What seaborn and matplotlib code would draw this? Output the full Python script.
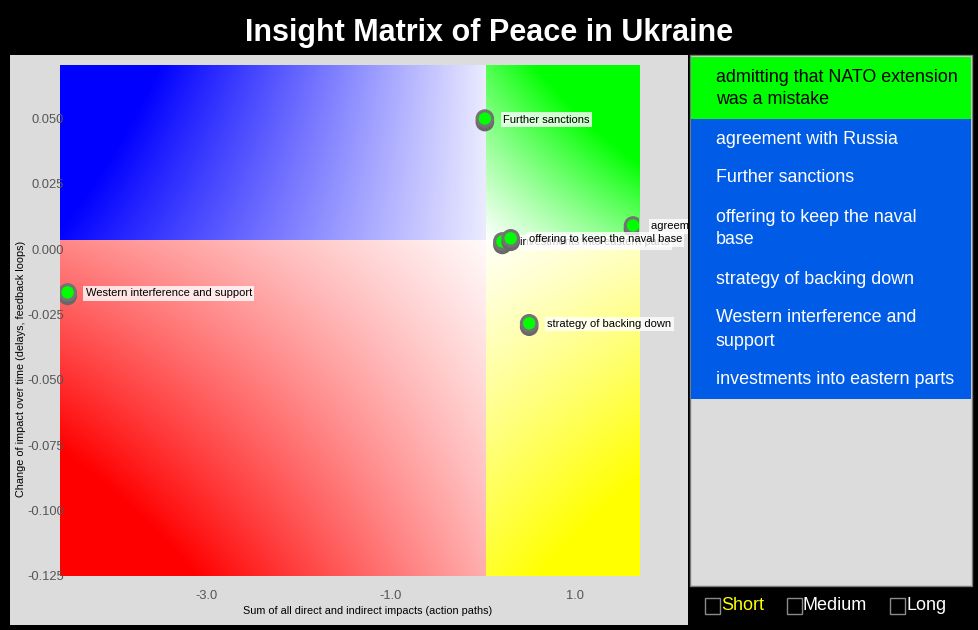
import textwrap
import numpy as np
import pandas as pd
import matplotlib
matplotlib.use("Agg")
import matplotlib.pyplot as plt
import seaborn as sns
from matplotlib.patches import Rectangle
from matplotlib.transforms import Bbox, TransformedBbox, ScaledTranslation

# ---------------- data ----------------
title = "Insight Matrix of Peace in Ukraine"
x_label = "Sum of all direct and indirect impacts (action paths)"
y_label = "Change of impact over time (delays, feedback loops)"

factors = [
    "admitting that NATO extension was a mistake",
    "agreement with Russia",
    "Further sanctions",
    "offering to keep the naval base",
    "strategy of backing down",
    "Western interference and support",
    "investments into eastern parts",
]
impact_sum = [np.nan, 1.625, 0.02, 0.30, 0.50, -4.50, 0.21]
impact_change = [np.nan, 0.0091, 0.050, 0.0042, -0.0283, -0.0165, 0.0030]
selected = "admitting that NATO extension was a mistake"

x_ticks = [-3.0, -1.0, 1.0]
y_ticks = [0.050, 0.025, 0.000, -0.025, -0.050, -0.075, -0.100, -0.125]
x_range = (-4.583, 1.69)
y_range = (-0.125, 0.0705)
x_split = 0.03
y_split = 0.0034
horizons = ["Short", "Medium", "Long"]
active_horizon = "Short"

# ---------------- figure ----------------
W, H = 979, 630
def fx(px):
    return px / W
def fy(py):
    return 1 - py / H

sns.set_theme(style="white")
plt.rcParams["font.family"] = ["Liberation Sans", "DejaVu Sans"]

fig = plt.figure(figsize=(W / 100, H / 100), dpi=100, facecolor="black")

# grey plot panel
fig.add_artist(Rectangle((fx(10), fy(625)), fx(688) - fx(10), fy(55) - fy(625),
                         transform=fig.transFigure, facecolor="#dcdcdc",
                         edgecolor="none", zorder=0))

ax_l, ax_r, ax_t, ax_b = 60, 639, 65, 576
ax = fig.add_axes([fx(ax_l), fy(ax_b), fx(ax_r) - fx(ax_l), fy(ax_t) - fy(ax_b)])
ax.patch.set_visible(False)
xmin, xmax = x_range
ymin, ymax = y_range

def quadrant(x0, x1, y0, y1, color, sx, sy, coef, n=300):
    """Colour fades to white toward the split point (U=V=0) and saturates outward."""
    a, b, c, d = coef
    f = np.linspace(0, 1, n)
    u = f if sx > 0 else 1 - f
    v = (1 - f) if sy > 0 else f
    U, V = np.meshgrid(u, v)
    s = np.clip(a + b * U + c * V + d * U * V, 0, 1)
    img = (1 - s[..., None]) * np.ones(3) + s[..., None] * np.array(color)
    ax.imshow(img, extent=(x0, x1, y0, y1), aspect="auto", origin="upper",
              interpolation="bilinear", zorder=0)

quadrant(xmin, x_split, y_split, ymax, (0, 0, 1), -1, 1, (0.08, 0.9, 0.0, 0.3))
quadrant(x_split, xmax, y_split, ymax, (0, 1, 0), 1, 1, (0.0, 0.5, 0.69, 0.45))
quadrant(xmin, x_split, ymin, y_split, (1, 0, 0), -1, -1, (0.02, 0.45, 0.3, 0.55))
quadrant(x_split, xmax, ymin, y_split, (1, 1, 0), 1, -1, (0.02, 0.2, 0.8, 0.3))

df = pd.DataFrame({"factor": factors, "x": impact_sum, "y": impact_change})
plot_df = df.dropna()
order = ["Western interference and support", "Further sanctions", "agreement with Russia",
         "strategy of backing down", "investments into eastern parts",
         "offering to keep the naval base"]

clipbox = TransformedBbox(Bbox([[fx(10), fy(625)], [fx(688), fy(55)]]), fig.transFigure)
shadow_tr = ax.transData + ScaledTranslation(0, -3.5 / 100, fig.dpi_scale_trans)

z = 2
for name in order:
    row = plot_df[plot_df["factor"] == name]
    sns.scatterplot(data=row, x="x", y="y", s=180, color="#686868", edgecolor="none",
                    ax=ax, legend=False, zorder=z)
    ax.collections[-1].set_offset_transform(shadow_tr)
    sns.scatterplot(data=row, x="x", y="y", s=180, color="#747474", edgecolor="none",
                    ax=ax, legend=False, zorder=z + 0.1)
    sns.scatterplot(data=row, x="x", y="y", s=80, color="#00ff00", edgecolor="none",
                    ax=ax, legend=False, zorder=z + 0.2)
    ann = ax.annotate(name, (row["x"].iloc[0], row["y"].iloc[0]), xytext=(18, -1),
                      textcoords="offset pixels", fontsize=8, va="center", ha="left",
                      color="black", zorder=z + 0.3,
                      bbox=dict(boxstyle="square,pad=0.2", fc="white", ec="none", alpha=0.8))
    ann.set_clip_box(clipbox)
    ann.set_clip_on(True)
    z += 1

ax.set_xlim(*x_range)
ax.set_ylim(*y_range)
ax.set_xticks(x_ticks)
ax.set_xticklabels([f"{v:.1f}" for v in x_ticks])
ax.set_yticks(y_ticks)
ax.set_yticklabels([f"{v:.3f}" for v in y_ticks])
ax.tick_params(axis="both", length=0, labelsize=9.3, labelcolor="#555555")
ax.tick_params(axis="x", pad=10)
ax.tick_params(axis="y", pad=-3)
ax.set_xlabel("")
ax.set_ylabel("")
for sp in ax.spines.values():
    sp.set_visible(False)

fig.text(fx(368), fy(611), x_label, fontsize=7.8, color="black", ha="center", va="center")
fig.text(fx(21), fy(369), y_label, fontsize=7.8, color="black", ha="center", va="center",
         rotation=90)

fig.text(0.5, fy(33), title, fontsize=22, fontweight="bold", color="white",
         ha="center", va="center")

# right factor panel
fig.add_artist(Rectangle((fx(690), fy(586)), fx(972) - fx(690), fy(55) - fy(586),
                         transform=fig.transFigure, facecolor="#dcdcdc",
                         edgecolor="#7a7a7a", linewidth=1, zorder=1))
top = 57
for name in factors:
    lines = textwrap.fill(name, 30).split("\n")
    h = 16 + 23 * len(lines)
    is_sel = name == selected
    fig.add_artist(Rectangle((fx(691), fy(top + h)), fx(971) - fx(691), fy(top) - fy(top + h),
                             transform=fig.transFigure,
                             facecolor="#00ff00" if is_sel else "#005ce6",
                             edgecolor="none", zorder=2))
    for k, line in enumerate(lines):
        fig.text(fx(716), fy(top + 20 + 23 * k), line, fontsize=12.9,
                 color="black" if is_sel else "white", ha="left", va="center", zorder=3)
    top += h

# horizon checkboxes
box_x = [705, 787, 890]
for hname, bx in zip(horizons, box_x):
    fig.add_artist(Rectangle((fx(bx), fy(614)), fx(bx + 15) - fx(bx), fy(598) - fy(614),
                             transform=fig.transFigure, facecolor="none",
                             edgecolor="#8a8a8a", linewidth=1))
    fig.text(fx(bx + 16), fy(606), hname, fontsize=13,
             color="#ffff00" if hname == active_horizon else "white",
             ha="left", va="center")

fig.savefig("out.png", dpi=100, facecolor="black")
